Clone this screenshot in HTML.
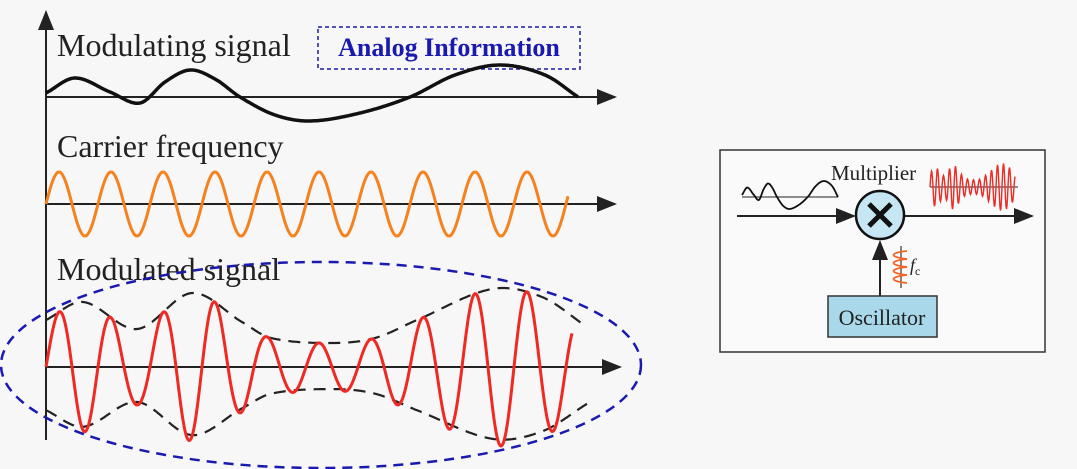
<!DOCTYPE html>
<html><head><meta charset="utf-8"><style>
html,body{margin:0;padding:0;background:#f7f7f7;}
svg{display:block;}
text{font-family:"Liberation Serif",serif;}
</style></head><body>
<svg id="s" width="1077" height="469" viewBox="0 0 1077 469">
<defs>
<marker id="ar" markerWidth="10" markerHeight="8" refX="9" refY="4" orient="auto"><path d="M0,0 L10,4 L0,8 Z" fill="#222"/></marker>
</defs>
<rect width="1077" height="469" fill="#f7f7f7"/>
<line x1="46" y1="440" x2="46" y2="12" stroke="#222" stroke-width="2" marker-end="url(#ar)"/>
<line x1="46" y1="97" x2="615" y2="97" stroke="#222" stroke-width="2" marker-end="url(#ar)"/>
<line x1="46" y1="204" x2="615" y2="204" stroke="#222" stroke-width="2" marker-end="url(#ar)"/>
<line x1="46" y1="367" x2="620" y2="367" stroke="#222" stroke-width="2" marker-end="url(#ar)"/>
<text x="57" y="56" font-size="32" fill="#222">Modulating signal</text>
<rect x="318" y="27" width="262" height="42" fill="none" stroke="#1a1aa0" stroke-width="1.5" stroke-dasharray="4,3"/>
<text x="449" y="56" font-size="26" font-weight="bold" fill="#1a1ab0" text-anchor="middle">Analog Information</text>
<text x="57" y="157" font-size="32" fill="#222">Carrier frequency</text>
<text x="57" y="280" font-size="32" fill="#222">Modulated signal</text>
<ellipse cx="321" cy="365" rx="320" ry="103" fill="none" stroke="#1a1ab0" stroke-width="2.5" stroke-dasharray="10,7"/>
<g id="plots"></g>

<!-- right block diagram -->
<rect x="720" y="150" width="325" height="202" fill="#fafafa" stroke="#333" stroke-width="1.5"/>
<line x1="737" y1="216" x2="854" y2="216" stroke="#222" stroke-width="2" marker-end="url(#ar)"/>
<line x1="904" y1="216" x2="1032" y2="216" stroke="#222" stroke-width="2" marker-end="url(#ar)"/>
<circle cx="880" cy="215" r="24" fill="#c5e6f2" stroke="#111" stroke-width="2.5"/>
<path d="M869,204 L891,226 M891,204 L869,226" stroke="#111" stroke-width="5"/>
<text x="831" y="180" font-size="21" fill="#222">Multiplier</text>
<line x1="880" y1="296" x2="880" y2="242" stroke="#222" stroke-width="2" marker-end="url(#ar)"/>
<rect x="828" y="296" width="109" height="41" fill="#a9d8ea" stroke="#333" stroke-width="1.5"/>
<text x="882" y="325" font-size="22" fill="#222" text-anchor="middle">Oscillator</text>
<line x1="901" y1="246" x2="901" y2="288" stroke="#333" stroke-width="1.2"/>
<path d="M907,251 C889,253 889,257 907,259 C889,261 889,265 907,267 C889,269 889,273 907,275 C889,277 889,281 907,283" fill="none" stroke="#f26522" stroke-width="1.8"/>
<text x="910" y="271" font-size="18" font-style="italic" fill="#222">f<tspan font-size="12" font-style="normal" dy="4">c</tspan></text>
<line x1="742" y1="197" x2="838" y2="197" stroke="#222" stroke-width="1"/>
<line x1="930" y1="187" x2="1018" y2="187" stroke="#222" stroke-width="1"/>
<g id="mini"></g>
</svg>
<script>
// Modulating signal samples (x in px along axis, amplitude in px above axis)
const modX = [46, 75, 110, 140, 165, 190, 215, 240, 275, 310, 360, 410, 455, 500, 545, 578];
const modVal = [4, 19, 5, -6, 15, 27, 18, 0, -18, -24, -16, 0, 22, 32, 22, 0];
// Carrier parameters
const carrierAmp = 32;
const carrierPeriod = 52;
// Modulated envelope samples
const envX = [46, 83, 137, 192, 242, 271, 333, 375, 417, 492, 542, 587];
const envVal = [47, 65, 38, 74, 45, 29, 24, 29, 47, 78, 70, 40];

const NS = 'http://www.w3.org/2000/svg';
const g = document.getElementById('plots');
const gm = document.getElementById('mini');
function interp(xs, vs, x) {
  const n = xs.length;
  if (x <= xs[0]) return vs[0];
  if (x >= xs[n-1]) return vs[n-1];
  let i = 1;
  while (x > xs[i]) i++;
  const x0 = xs[i-1], x1 = xs[i], y0 = vs[i-1], y1 = vs[i];
  const h = x1 - x0, t = (x - x0) / h;
  const m0 = i - 2 >= 0 ? (y1 - vs[i-2]) / (x1 - xs[i-2]) : (y1 - y0) / h;
  const m1 = i + 1 < n ? (vs[i+1] - y0) / (xs[i+1] - x0) : (y1 - y0) / h;
  const t2 = t * t, t3 = t2 * t;
  return (2*t3 - 3*t2 + 1) * y0 + (t3 - 2*t2 + t) * h * m0 + (-2*t3 + 3*t2) * y1 + (t3 - t2) * h * m1;
}
function path(parent, d, stroke, w, dash, name) {
  const p = document.createElementNS(NS, 'path');
  p.setAttribute('d', d);
  p.setAttribute('fill', 'none');
  p.setAttribute('stroke', stroke);
  p.setAttribute('stroke-width', w);
  if (dash) p.setAttribute('stroke-dasharray', dash);
  
  
  parent.appendChild(p);
}
let d = '';
for (let x = modX[0]; x <= modX[modX.length-1]; x += 1) {
  d += (d ? 'L' : 'M') + x + ',' + (97 - interp(modX, modVal, x)).toFixed(1);
}
path(g, d, '#111', 3.5, null, 'modulating-signal-line');
d = '';
for (let x = 46; x <= 568; x += 1) {
  d += (d ? 'L' : 'M') + x + ',' + (204 - carrierAmp * Math.sin(2 * Math.PI * (x - 46) / carrierPeriod)).toFixed(1);
}
path(g, d, '#f58220', 3, null, 'carrier-wave-line');
let du = '', dl = '';
for (let x = envX[0]; x <= envX[envX.length-1]; x += 1) {
  const e = interp(envX, envVal, x);
  du += (du ? 'L' : 'M') + x + ',' + (367 - e).toFixed(1);
  dl += (dl ? 'L' : 'M') + x + ',' + (367 + e * 0.92).toFixed(1);
}
path(g, du, '#222', 2.2, '12,8', 'upper-envelope');
path(g, dl, '#222', 2.2, '12,8', 'lower-envelope');
d = '';
for (let x = 46; x <= 572; x += 1) {
  const e = interp(envX, envVal, x);
  d += (d ? 'L' : 'M') + x + ',' + (367 - e * Math.sin(2 * Math.PI * (x - 46) / carrierPeriod)).toFixed(1);
}
path(g, d, '#ee2a24', 3, null, 'modulated-signal-line');
d = '';
for (let i = 0; i <= 96; i++) {
  const x = 46 + i * 532 / 96;
  d += (d ? 'L' : 'M') + (742 + i) + ',' + (197 - interp(modX, modVal, x) * 0.5).toFixed(1);
}
path(gm, d, '#111', 1.8, null, 'mini-input-wave');
d = '';
for (let i = 0; i <= 170; i++) {
  const x = 46 + i * 541 / 170;
  const e = interp(envX, envVal, x) * 0.3;
  d += (d ? 'L' : 'M') + (930 + i / 2) + ',' + (187 - e * Math.sin(2 * Math.PI * i / 12)).toFixed(1);
}
path(gm, d, '#ee2a24', 1.4, null, 'mini-output-wave');
</script>
</body></html>
